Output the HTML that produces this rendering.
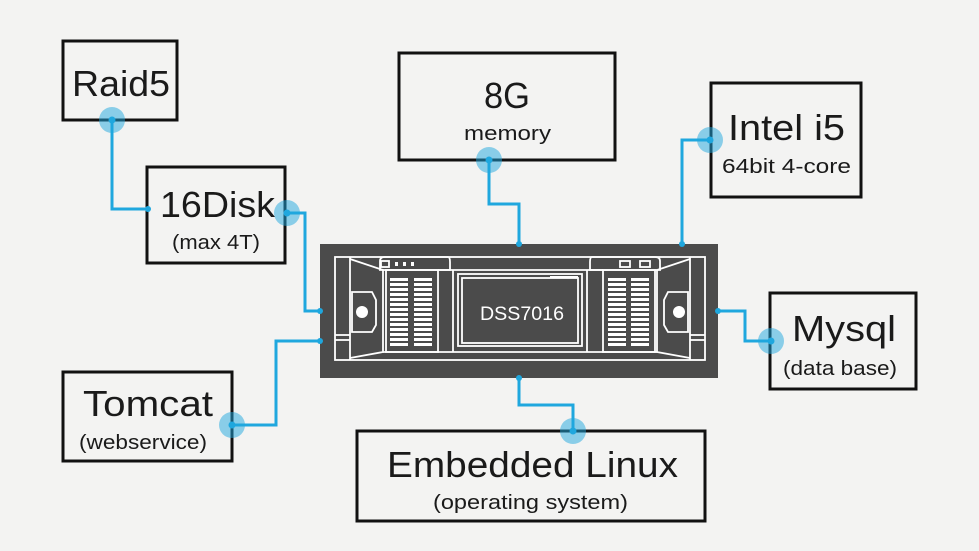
<!DOCTYPE html>
<html><head><meta charset="utf-8"><style>
html,body{margin:0;padding:0;background:#f3f3f2;}
svg{display:block;}
text{font-family:"Liberation Sans",sans-serif;fill:#1a1a1a;}
</style></head><body>
<svg width="979" height="551" viewBox="0 0 979 551" xmlns="http://www.w3.org/2000/svg">
<defs>
<pattern id="sl" x="0" y="278" width="10" height="5" patternUnits="userSpaceOnUse">
<rect x="0" y="0" width="10" height="3" fill="#fff"/>
</pattern>
</defs>
<rect width="979" height="551" fill="#f3f3f2"/>
<g fill="none" stroke="#111" stroke-width="3">
<rect x="63" y="41" width="114" height="79"/>
<rect x="147" y="167" width="138" height="96"/>
<rect x="399" y="53" width="216" height="107"/>
<rect x="711" y="83" width="150" height="114"/>
<rect x="770" y="293" width="146" height="96"/>
<rect x="63" y="372" width="169" height="89"/>
<rect x="357" y="431" width="348" height="90"/>
</g>
<!-- device -->
<rect x="320" y="244" width="398" height="134" fill="#4b4b4b"/>
<g fill="none" stroke="#fff" stroke-width="1.8">
<rect x="335" y="257" width="370" height="103"/>
<line x1="350" y1="257" x2="350" y2="360"/>
<line x1="690" y1="257" x2="690" y2="360"/>
<path d="M350 259 L383 270 L383 352 L350 358"/>
<path d="M690 259 L657 270 L657 352 L690 358"/>
<path d="M352 292 L372 292 L376 300 L376 325 L372 332 L352 332 Z"/>
<path d="M688 292 L668 292 L664 300 L664 325 L668 332 L688 332 Z"/>
<line x1="335" y1="335" x2="350" y2="335"/><line x1="335" y1="340" x2="350" y2="340"/>
<line x1="690" y1="335" x2="705" y2="335"/><line x1="690" y1="340" x2="705" y2="340"/>
<rect x="386" y="270" width="52" height="82"/>
<rect x="603" y="270" width="52" height="82"/>
<path d="M380 270 L380 261 Q380 257 385 257 L448 257 Q450 257 450 262 L450 270 Z"/>
<path d="M660 270 L660 261 Q660 257 655 257 L592 257 Q590 257 590 262 L590 270 Z"/>
<line x1="438" y1="270" x2="603" y2="270"/>
<line x1="453" y1="270" x2="453" y2="352"/>
<line x1="587" y1="270" x2="587" y2="352"/>
<rect x="458" y="274" width="124" height="72"/>
<rect x="462" y="278" width="116" height="65"/>
<line x1="383" y1="352" x2="657" y2="352"/>
<rect x="381" y="261" width="8" height="6"/>
<rect x="620" y="261" width="10" height="6"/><rect x="640" y="261" width="10" height="6"/>
</g>
<rect x="390" y="278" width="18" height="68" fill="url(#sl)"/>
<rect x="414" y="278" width="18" height="68" fill="url(#sl)"/>
<rect x="608" y="278" width="18" height="68" fill="url(#sl)"/>
<rect x="631" y="278" width="18" height="68" fill="url(#sl)"/>
<circle cx="362" cy="312" r="6" fill="#fff"/>
<circle cx="679" cy="312" r="6" fill="#fff"/>
<rect x="395" y="262" width="3" height="4" fill="#fff"/><rect x="403" y="262" width="3" height="4" fill="#fff"/><rect x="411" y="262" width="3" height="4" fill="#fff"/>
<rect x="550" y="276" width="28" height="2" fill="#fff"/>
<text x="480" y="320" font-size="19" style="fill:#fff" textLength="84" lengthAdjust="spacingAndGlyphs">DSS7016</text>
<!-- connectors -->
<g fill="none" stroke="#1fa7de" stroke-width="3">
<polyline points="112,120 112,209 148,209"/>
<polyline points="287,213 305,213 305,311 320,311"/>
<polyline points="232,425 276,425 276,341 320,341"/>
<polyline points="489,160 489,204 519,204 519,244"/>
<polyline points="710,140 682,140 682,244"/>
<polyline points="771,341 745,341 745,311 718,311"/>
<polyline points="573,431 573,405 519,405 519,378"/>
</g>
<g fill="#1fa7de" fill-opacity="0.5">
<circle cx="112" cy="120" r="13"/><circle cx="287" cy="213" r="13"/>
<circle cx="232" cy="425" r="13"/><circle cx="489" cy="160" r="13"/>
<circle cx="710" cy="140" r="13"/><circle cx="771" cy="341" r="13"/>
<circle cx="573" cy="431" r="13"/>
</g>
<g fill="#1fa7de">
<circle cx="112" cy="120" r="3.5"/><circle cx="287" cy="213" r="3.5"/>
<circle cx="232" cy="425" r="3.5"/><circle cx="489" cy="160" r="3.5"/>
<circle cx="710" cy="140" r="3.5"/><circle cx="771" cy="341" r="3.5"/>
<circle cx="573" cy="431" r="3.5"/>
<circle cx="148" cy="209" r="3"/><circle cx="320" cy="311" r="3"/><circle cx="320" cy="341" r="3"/>
<circle cx="519" cy="244" r="3"/><circle cx="682" cy="244" r="3"/><circle cx="718" cy="311" r="3"/><circle cx="519" cy="378" r="3"/>
</g>
<!-- labels -->
<g lengthAdjust="spacingAndGlyphs">
<text x="72" y="96" font-size="36" textLength="98" lengthAdjust="spacingAndGlyphs">Raid5</text>
<text x="160" y="217" font-size="36" textLength="115" lengthAdjust="spacingAndGlyphs">16Disk</text>
<text x="172" y="249" font-size="20" textLength="88" lengthAdjust="spacingAndGlyphs">(max 4T)</text>
<text x="484" y="108" font-size="36" textLength="46" lengthAdjust="spacingAndGlyphs">8G</text>
<text x="464" y="140" font-size="20" textLength="87" lengthAdjust="spacingAndGlyphs">memory</text>
<text x="728" y="140" font-size="36" textLength="117" lengthAdjust="spacingAndGlyphs">Intel i5</text>
<text x="722" y="173" font-size="20" textLength="129" lengthAdjust="spacingAndGlyphs">64bit 4-core</text>
<text x="792" y="341" font-size="36" textLength="104" lengthAdjust="spacingAndGlyphs">Mysql</text>
<text x="783" y="375" font-size="20" textLength="114" lengthAdjust="spacingAndGlyphs">(data base)</text>
<text x="83" y="416" font-size="36" textLength="130" lengthAdjust="spacingAndGlyphs">Tomcat</text>
<text x="79" y="449" font-size="20" textLength="128" lengthAdjust="spacingAndGlyphs">(webservice)</text>
<text x="387" y="477" font-size="36" textLength="291" lengthAdjust="spacingAndGlyphs">Embedded Linux</text>
<text x="433" y="509" font-size="20" textLength="195" lengthAdjust="spacingAndGlyphs">(operating system)</text>
</g>
</svg>
</body></html>
